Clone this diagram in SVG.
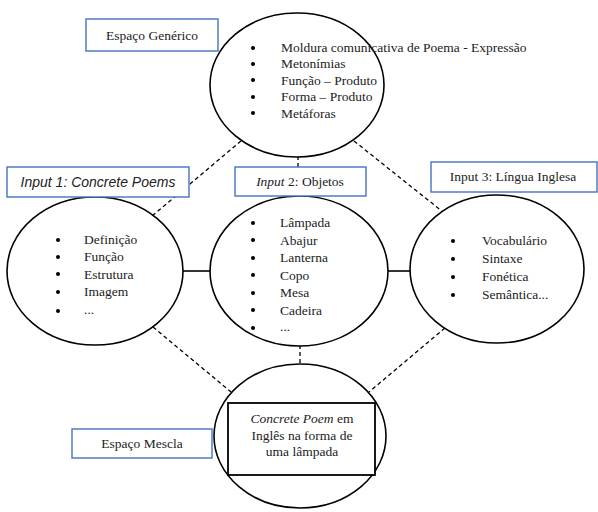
<svg xmlns="http://www.w3.org/2000/svg" width="598" height="512" viewBox="0 0 598 512">
<style>
.bg{fill:#fff}
.ell{fill:#fff;stroke:#000;stroke-width:1.6}
.lbl{fill:#fff;stroke:#4472C4;stroke-width:1.4}
.t{font-family:"Liberation Serif","Times New Roman",serif;font-size:13.5px;fill:#222}
.ts{font-family:"Liberation Sans",Arial,sans-serif;font-size:14px;font-style:italic;fill:#222}
.c{text-anchor:middle}
.dash{stroke:#000;stroke-width:1.3;stroke-dasharray:4 3;fill:none}
.solid{stroke:#000;stroke-width:1.6;fill:none}
.b{fill:#000}
</style>
<rect class="bg" width="598" height="512"/>
<g id="connectors">
<line class="dash" x1="241" y1="141" x2="152" y2="216"/>
<line class="dash" x1="354" y1="141" x2="443" y2="212"/>
<line class="dash" x1="298" y1="156" x2="298" y2="198"/>
<line class="solid" x1="182" y1="271" x2="211" y2="271"/>
<line class="solid" x1="387" y1="271" x2="411" y2="271"/>
<line class="dash" x1="153" y1="327" x2="231" y2="392"/>
<line class="dash" x1="300" y1="345" x2="300" y2="364"/>
<line class="dash" x1="445" y1="328" x2="369" y2="392"/>
</g>
<g id="generic">
<ellipse class="ell" cx="297" cy="85" rx="87" ry="72"/>
<g class="t">
<circle class="b" cx="253" cy="48" r="2"/><text x="281" y="52">Moldura comunicativa de Poema - Expressão</text>
<circle class="b" cx="253" cy="64" r="2"/><text x="281" y="68">Metonímias</text>
<circle class="b" cx="253" cy="80" r="2"/><text x="281" y="85">Função – Produto</text>
<circle class="b" cx="253" cy="97" r="2"/><text x="281" y="101">Forma – Produto</text>
<circle class="b" cx="253" cy="113" r="2"/><text x="281" y="118">Metáforas</text>
</g>
</g>
<g id="label-generic">
<rect class="lbl" x="86" y="19" width="132" height="32"/>
<text class="t c" x="152" y="40">Espaço Genérico</text>
</g>
<g id="input1">
<ellipse class="ell" cx="95" cy="271" rx="88" ry="74"/>
<g class="t">
<circle class="b" cx="58" cy="240" r="2"/><text x="84" y="244">Definição</text>
<circle class="b" cx="58" cy="257" r="2"/><text x="84" y="261">Função</text>
<circle class="b" cx="58" cy="274" r="2"/><text x="84" y="279">Estrutura</text>
<circle class="b" cx="58" cy="292" r="2"/><text x="84" y="296">Imagem</text>
<circle class="b" cx="58" cy="311" r="2"/><text x="84" y="314">...</text>
</g>
</g>
<g id="label-input1">
<rect class="lbl" x="7" y="167" width="182" height="30"/>
<text class="ts c" x="98" y="187">Input 1: Concrete Poems</text>
</g>
<g id="input2">
<ellipse class="ell" cx="299" cy="271" rx="89" ry="75"/>
<g class="t">
<circle class="b" cx="253" cy="223" r="2"/><text x="280" y="227">Lâmpada</text>
<circle class="b" cx="253" cy="240" r="2"/><text x="280" y="245">Abajur</text>
<circle class="b" cx="253" cy="258" r="2"/><text x="280" y="262">Lanterna</text>
<circle class="b" cx="253" cy="275" r="2"/><text x="280" y="280">Copo</text>
<circle class="b" cx="253" cy="293" r="2"/><text x="280" y="297">Mesa</text>
<circle class="b" cx="253" cy="310" r="2"/><text x="280" y="315">Cadeira</text>
<circle class="b" cx="253" cy="328" r="2"/><text x="280" y="331">...</text>
</g>
</g>
<g id="label-input2">
<rect class="lbl" x="235" y="167" width="131" height="29"/>
<text class="t c" x="300" y="186"><tspan font-style="italic">Input</tspan> 2: Objetos</text>
</g>
<g id="input3">
<ellipse class="ell" cx="497" cy="269" rx="87" ry="74"/>
<g class="t">
<circle class="b" cx="453" cy="241" r="2"/><text x="482" y="245">Vocabulário</text>
<circle class="b" cx="453" cy="259" r="2"/><text x="482" y="263">Sintaxe</text>
<circle class="b" cx="453" cy="277" r="2"/><text x="482" y="281">Fonética</text>
<circle class="b" cx="453" cy="295" r="2"/><text x="482" y="299">Semântica...</text>
</g>
</g>
<g id="label-input3">
<rect class="lbl" x="431" y="162" width="166" height="30"/>
<text class="t c" x="513" y="181">Input 3: Língua Inglesa</text>
</g>
<g id="blend">
<ellipse class="ell" cx="300" cy="436" rx="86" ry="72"/>
<rect x="228" y="403" width="147" height="72" fill="#fff" stroke="#000" stroke-width="1.8"/>
<text class="t c" x="302" y="423"><tspan font-style="italic">Concrete Poem</tspan> em</text>
<text class="t c" x="302" y="440">Inglês na forma de</text>
<text class="t c" x="302" y="456">uma lâmpada</text>
</g>
<g id="label-blend">
<rect class="lbl" x="72" y="429" width="140" height="29"/>
<text class="t c" x="142" y="448">Espaço Mescla</text>
</g>
</svg>
